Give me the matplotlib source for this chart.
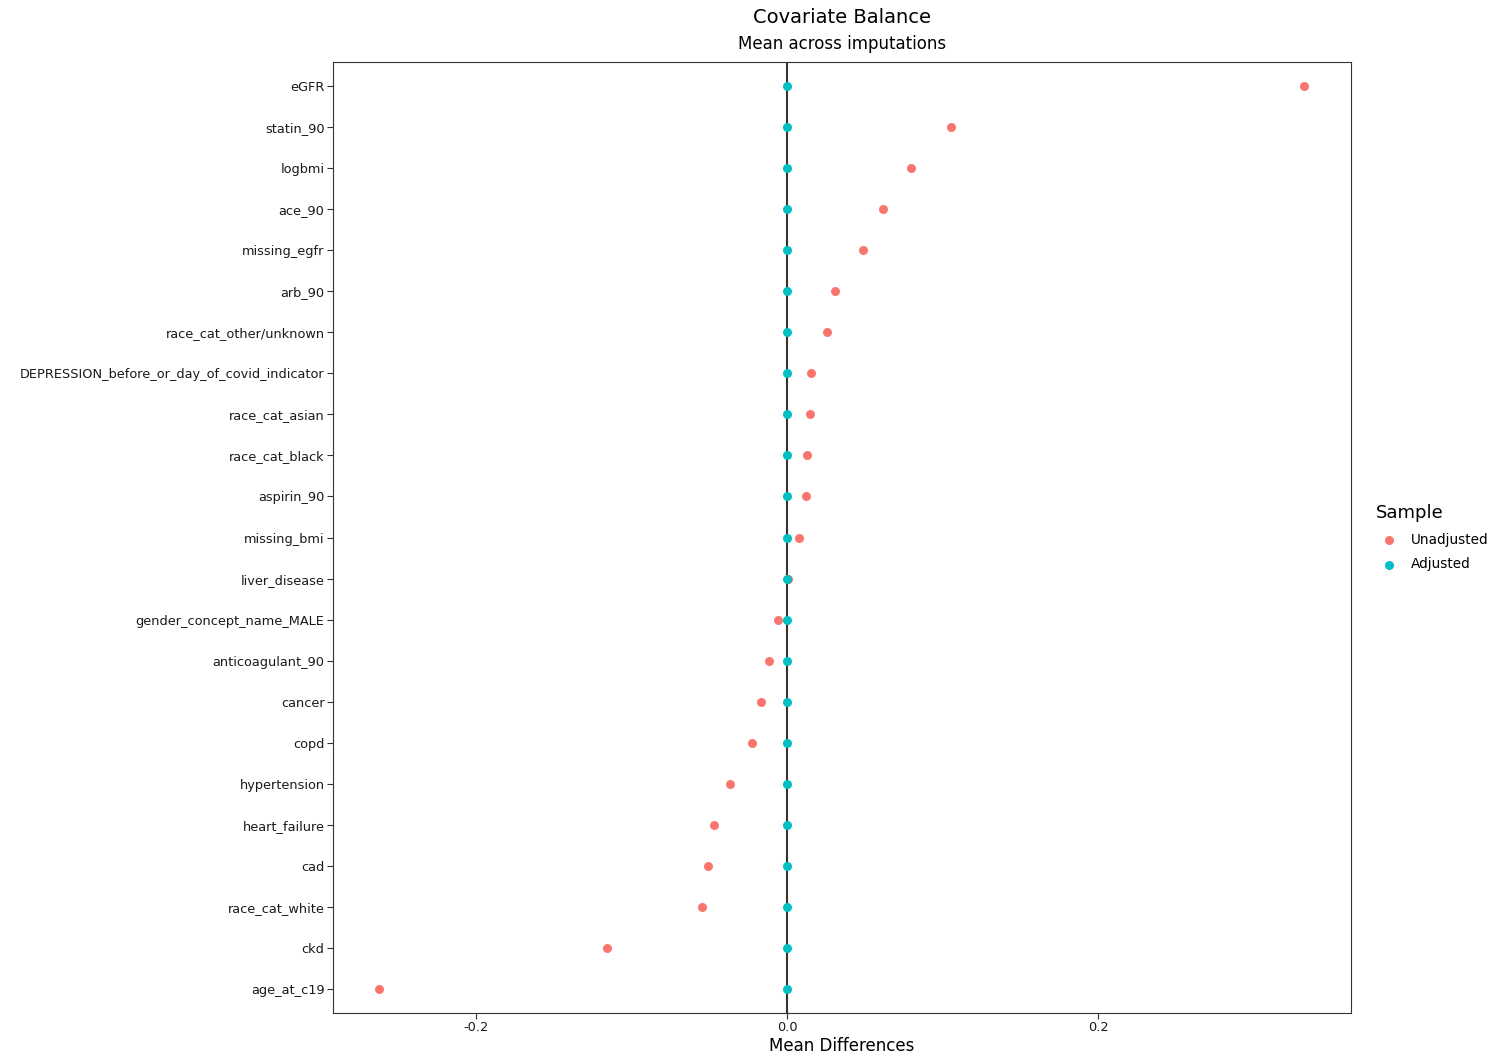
import numpy as np
import matplotlib.pyplot as plt

covariates = [
    'eGFR', 'statin_90', 'logbmi', 'ace_90', 'missing_egfr', 'arb_90',
    'race_cat_other/unknown', 'DEPRESSION_before_or_day_of_covid_indicator',
    'race_cat_asian', 'race_cat_black', 'aspirin_90', 'missing_bmi',
    'liver_disease', 'gender_concept_name_MALE', 'anticoagulant_90', 'cancer',
    'copd', 'hypertension', 'heart_failure', 'cad', 'race_cat_white', 'ckd',
    'age_at_c19',
]
unadjusted = [
    0.3325, 0.1055, 0.0797, 0.0617, 0.0489, 0.0309,
    0.0257, 0.0154,
    0.0148, 0.0129, 0.0122, 0.0077,
    0.0005, -0.0058, -0.0116, -0.0167,
    -0.0225, -0.0367, -0.0469, -0.0508, -0.0547, -0.1158,
    -0.2624,
]
adjusted = [0.0] * len(covariates)

red = '#F8766D'
teal = '#00BFC4'

fig = plt.figure(figsize=(14.95, 10.57), dpi=100)
ax = fig.add_axes([0.2227, 0.0416, 0.681, 0.8997])

y = np.arange(len(covariates))[::-1]
ax.axvline(0, color='#333333', lw=1.5, zorder=1)
ax.scatter(unadjusted, y, s=42, color=red, label='Unadjusted', zorder=2, linewidths=0)
ax.scatter(adjusted, y, s=42, color=teal, label='Adjusted', zorder=3, linewidths=0)

ax.set_yticks(y)
ax.set_yticklabels(covariates, fontsize=9.3, color='#1a1a1a')
ax.set_ylim(-0.58, len(covariates) - 0.42)
ax.set_xlim(-0.292, 0.3627)
ax.set_xticks([-0.2, 0.0, 0.2])
ax.set_xticklabels(['-0.2', '0.0', '0.2'], fontsize=9.3, color='#1a1a1a')
ax.tick_params(length=4, width=0.8, color='#333333', pad=2)
for s in ax.spines.values():
    s.set_color('#333333')
    s.set_linewidth(0.8)

ax.set_xlabel('Mean Differences', fontsize=12, labelpad=2)
fig.text(0.5635, 0.983, 'Covariate Balance', ha='center', va='center', fontsize=14)
fig.text(0.5635, 0.9584, 'Mean across imputations', ha='center', va='center', fontsize=12)

leg = ax.legend(title='Sample', loc='center left', bbox_to_anchor=(1.012, 0.5),
                frameon=False, fontsize=9.8, title_fontsize=13, markerscale=1.0,
                handletextpad=0.6, labelspacing=0.8)
leg._legend_box.align = 'left'

fig.savefig('out.png', dpi=100)
